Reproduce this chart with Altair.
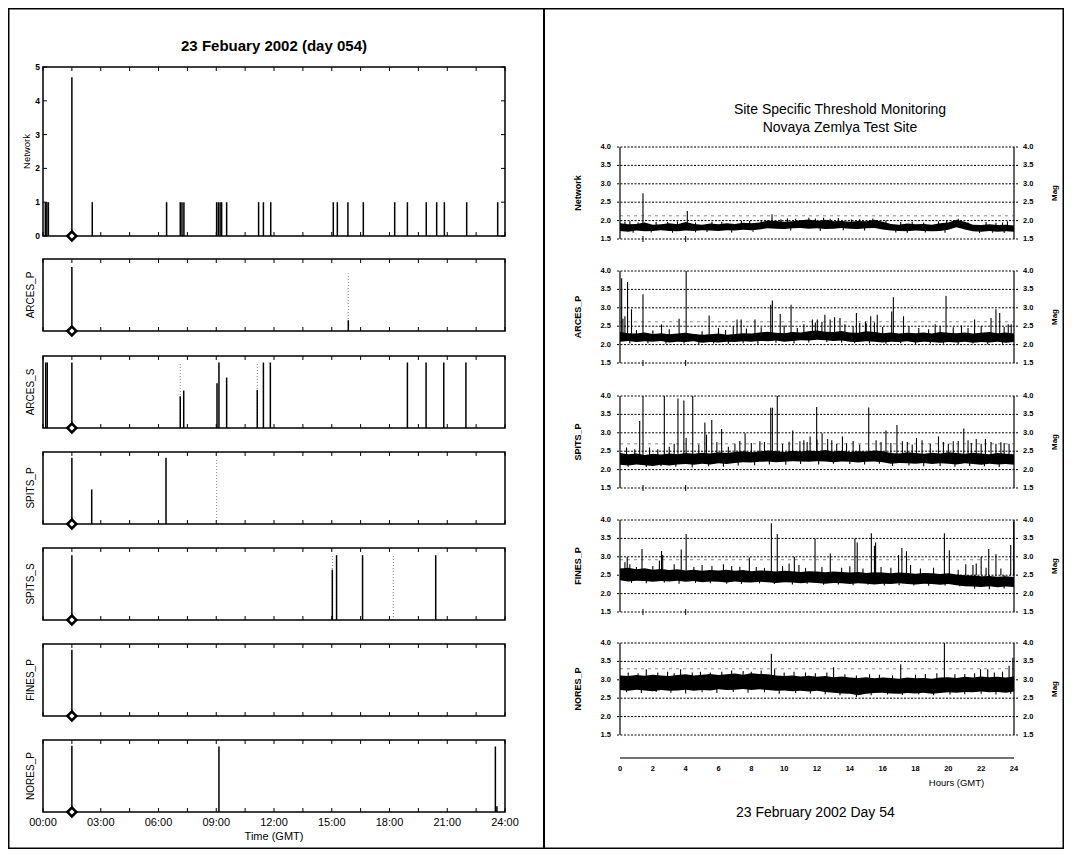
import altair as alt
import pandas as pd

W, H = 1056, 841
FONT = "Liberation Sans, Arial, Helvetica, sans-serif"

# ------------------------------------------------------------------ data
# left column: event-detection traces (hours GMT, normalised amplitude)
LEFT_PANELS = ["Network", "ARCES_P", "ARCES_S", "SPITS_P", "SPITS_S", "FINES_P", "NORES_P"]
EVENT_HOUR = 1.5
LEFT_TICK_HOURS = [0, 3, 6, 9, 12, 15, 18, 21, 24]
LEFT_TICK_LABELS = ["00:00", "03:00", "06:00", "09:00", "12:00", "15:00", "18:00", "21:00", "24:00"]
NETWORK_Y_TICKS = [0, 1, 2, 3, 4, 5]

NET_H = [0.12, 0.20, 0.28, 1.5, 2.56, 6.42, 7.13, 7.22, 7.32, 9.02, 9.11, 9.20, 9.28, 9.54,
         11.20, 11.45, 11.83, 15.08, 15.29, 15.84, 16.64, 18.27, 18.93, 19.91, 20.45, 20.85,
         22.01, 23.62]
NET_V = [1, 1, 1, 4.7, 1, 1, 1, 1, 1, 1, 1, 1, 1, 1,
         1, 1, 1, 1, 1, 1, 1, 1, 1, 1, 1, 1,
         1, 1]

ARCES_P_H = [1.5, 15.86]
ARCES_P_V = [0.89, 0.15]
ARCES_P_FAINT_H = [15.86]
ARCES_P_FAINT_V = [0.80]

ARCES_S_H = [0.14, 0.22, 1.5, 7.13, 7.31, 9.04, 9.14, 9.54, 11.13, 11.45, 11.81, 18.93, 19.90, 20.82, 21.97]
ARCES_S_V = [0.91, 0.91, 0.91, 0.44, 0.52, 0.62, 0.91, 0.70, 0.53, 0.91, 0.91, 0.91, 0.91, 0.91, 0.91]
ARCES_S_FAINT_H = [7.13, 11.13]
ARCES_S_FAINT_V = [0.90, 0.90]

SPITS_P_H = [1.5, 2.53, 6.39]
SPITS_P_V = [0.92, 0.48, 0.92]
SPITS_P_FAINT_H = [9.02]
SPITS_P_FAINT_V = [0.90]

SPITS_S_H = [1.5, 15.03, 15.25, 16.60, 20.40]
SPITS_S_V = [0.90, 0.70, 0.90, 0.90, 0.90]
SPITS_S_FAINT_H = [15.03, 18.20]
SPITS_S_FAINT_V = [0.90, 0.90]

FINES_P_H = [1.5]
FINES_P_V = [0.92]

NORES_P_H = [1.5, 9.14, 23.50, 23.58]
NORES_P_V = [0.92, 0.91, 0.91, 0.08]

# right column: threshold monitoring (magnitude), band sampled every half hour
HALF_HOURS = [i * 0.5 for i in range(49)]
RIGHT_PANELS = ["Network", "ARCES_P", "SPITS_P", "FINES_P", "NORES_P"]
MAG_TICKS = [1.5, 2.0, 2.5, 3.0, 3.5, 4.0]
MAG_LABELS = ["1.5", "2.0", "2.5", "3.0", "3.5", "4.0"]
HOUR_TICKS = [0, 2, 4, 6, 8, 10, 12, 14, 16, 18, 20, 22, 24]
MARKER_HOURS = [1.4, 4.0]

NET_HI = [1.93, 1.90, 1.91, 1.95, 1.89, 1.90, 1.93, 1.90, 1.96, 1.91, 1.89, 1.92, 1.90, 1.93, 1.91, 1.94,
          1.93, 1.95, 2.00, 1.99, 1.97, 1.98, 2.01, 2.03, 1.99, 2.02, 1.98, 1.99, 1.97, 1.99, 1.98, 2.02,
          1.97, 1.91, 1.89, 1.92, 1.90, 1.91, 1.89, 1.93, 1.95, 2.02, 1.97, 1.89, 1.88, 1.90, 1.88, 1.89, 1.87]
NET_LO = [1.72, 1.70, 1.73, 1.71, 1.72, 1.74, 1.72, 1.71, 1.73, 1.72, 1.74, 1.73, 1.72, 1.74, 1.73, 1.75,
          1.74, 1.76, 1.79, 1.78, 1.77, 1.79, 1.80, 1.78, 1.79, 1.77, 1.78, 1.80, 1.78, 1.77, 1.79, 1.80,
          1.76, 1.73, 1.72, 1.71, 1.73, 1.72, 1.71, 1.72, 1.75, 1.82, 1.76, 1.71, 1.70, 1.72, 1.70, 1.71, 1.70]
NET_SPK_H = [1.4, 4.1, 9.26, 0.6, 2.9, 5.6, 7.4, 10.2, 11.5, 12.8, 13.3, 15.4, 17.8, 19.4, 20.6, 22.3, 23.6,
             0.3, 1.1, 2.2, 3.5, 4.6, 6.2, 7.9, 8.6, 9.8, 10.7, 11.9, 12.4, 14.1, 14.6, 16.2, 17.1,
             18.5, 19.9, 21.2, 22.9, 23.3]
NET_SPK_V = [2.74, 2.26, 2.17, 1.98, 1.96, 1.97, 1.99, 2.06, 2.08, 2.05, 2.07, 2.06, 1.97, 1.98, 2.05, 1.96, 1.98,
             1.97, 1.95, 1.96, 1.98, 1.95, 1.97, 1.99, 2.01, 2.04, 2.05, 2.06, 2.08, 2.03, 2.04, 2.00, 1.96,
             1.95, 1.99, 1.95, 1.94, 1.95]
NET_DIP_H = [0.8, 1.9, 3.2, 4.6, 5.3, 6.8, 8.1, 10.4, 12.2, 13.6, 14.9, 16.8, 17.5, 18.6, 19.8, 21.9, 22.7, 23.4]
NET_DIP_V = [1.67, 1.68, 1.67, 1.68, 1.69, 1.68, 1.70, 1.73, 1.72, 1.74, 1.73, 1.68, 1.67, 1.68, 1.67, 1.66, 1.67, 1.66]

ARC_HI = [2.34, 2.31, 2.30, 2.33, 2.29, 2.31, 2.28, 2.30, 2.32, 2.29, 2.27, 2.28, 2.30, 2.27, 2.29, 2.31,
          2.30, 2.33, 2.35, 2.32, 2.31, 2.34, 2.33, 2.36, 2.38, 2.35, 2.34, 2.37, 2.33, 2.32, 2.36, 2.34,
          2.31, 2.33, 2.30, 2.32, 2.31, 2.33, 2.30, 2.34, 2.32, 2.31, 2.33, 2.30, 2.32, 2.34, 2.31, 2.33, 2.30]
ARC_LO = [2.08, 2.10, 2.07, 2.09, 2.08, 2.10, 2.06, 2.08, 2.07, 2.09, 2.05, 2.07, 2.06, 2.08, 2.07, 2.09,
          2.08, 2.10, 2.09, 2.11, 2.08, 2.10, 2.12, 2.11, 2.13, 2.12, 2.10, 2.11, 2.08, 2.07, 2.09, 2.08,
          2.06, 2.08, 2.07, 2.09, 2.06, 2.08, 2.07, 2.05, 2.07, 2.06, 2.08, 2.05, 2.07, 2.06, 2.08, 2.05, 2.07]
ARC_SPK_H = [0.1, 0.18, 0.3, 0.46, 0.7, 1.4, 2.53, 3.6, 4.03, 4.63, 5.43, 6.43, 7.13, 7.38, 8.22, 9.18,
             9.28, 9.76, 10.42, 11.72, 12.02, 12.48, 12.8, 13.07, 13.4, 14.4, 14.6, 14.95, 15.27, 15.67,
             16.55, 16.65, 17.27, 19.2, 19.86, 21.6, 22.6, 22.9, 23.13, 23.65, 23.83,
             1.0, 2.0, 3.0, 5.0, 6.0, 6.9, 7.7, 8.6, 10.0, 10.8, 11.2, 11.9, 12.3, 13.7, 14.2, 15.0,
             15.5, 16.0, 17.6, 18.2, 18.8, 19.5, 20.3, 20.8, 21.2, 22.0, 23.4]
ARC_SPK_V = [3.8, 2.7, 2.77, 3.7, 2.96, 3.37, 2.55, 2.7, 4.0, 2.28, 2.79, 2.4, 2.68, 2.68, 2.68, 3.08,
             3.2, 2.83, 3.08, 2.68, 2.68, 2.81, 2.68, 2.74, 2.72, 2.86, 2.59, 2.63, 2.77, 2.81,
             2.9, 3.29, 2.77, 2.55, 3.32, 2.68, 2.72, 2.96, 2.86, 2.55, 2.55,
             2.40, 2.38, 2.42, 2.36, 2.45, 2.50, 2.44, 2.47, 2.52, 2.45, 2.55, 2.60, 2.62, 2.55, 2.50, 2.58,
             2.60, 2.48, 2.50, 2.45, 2.42, 2.50, 2.47, 2.52, 2.45, 2.50, 2.48]
ARC_DIP_H = [0.6, 1.7, 2.8, 3.9, 4.8, 5.7, 6.6, 7.5, 8.4, 9.5, 10.6, 11.5, 12.6, 13.5, 14.3, 15.2, 16.2,
             17.1, 18.0, 18.9, 19.7, 20.6, 21.5, 22.4, 23.3]
ARC_DIP_V = [2.03, 2.04, 2.02, 2.03, 2.01, 2.03, 2.02, 2.04, 2.02, 2.05, 2.03, 2.06, 2.07, 2.05, 2.04, 2.03, 2.02,
             2.04, 2.01, 2.03, 2.02, 2.00, 2.03, 2.01, 2.02]

SPI_HI = [2.45, 2.42, 2.44, 2.40, 2.43, 2.41, 2.44, 2.42, 2.45, 2.43, 2.46, 2.44, 2.47, 2.45, 2.48, 2.50,
          2.47, 2.49, 2.52, 2.50, 2.48, 2.51, 2.49, 2.52, 2.50, 2.53, 2.49, 2.51, 2.48, 2.50, 2.49, 2.52,
          2.50, 2.45, 2.44, 2.47, 2.45, 2.43, 2.46, 2.44, 2.47, 2.45, 2.43, 2.46, 2.44, 2.42, 2.45, 2.43, 2.42]
SPI_LO = [2.13, 2.11, 2.14, 2.12, 2.10, 2.13, 2.11, 2.14, 2.15, 2.13, 2.16, 2.14, 2.17, 2.15, 2.18, 2.20,
          2.19, 2.21, 2.22, 2.20, 2.21, 2.23, 2.22, 2.21, 2.23, 2.22, 2.20, 2.22, 2.21, 2.19, 2.21, 2.22,
          2.20, 2.16, 2.18, 2.17, 2.16, 2.18, 2.15, 2.17, 2.16, 2.14, 2.17, 2.15, 2.13, 2.16, 2.14, 2.15, 2.13]
SPI_SPK_H = [1.2, 1.4, 2.7, 3.53, 3.89, 4.03, 4.43, 5.17, 5.27, 5.59, 6.19, 7.62, 8.52, 9.18, 9.28, 9.58,
             10.52, 10.96, 11.58, 11.98, 12.31, 12.65, 13.55, 15.15, 16.2, 16.87, 17.2, 18.06, 19.4,
             20.3, 20.94, 21.7, 22.26, 23.4,
             0.4, 0.9, 1.8, 2.3, 3.0, 3.3, 4.8, 5.9, 6.6, 7.0, 7.3, 8.0, 8.8, 9.9, 10.3, 11.2, 11.4,
             12.0, 12.9, 13.2, 13.8, 14.2, 14.6, 15.6, 15.9, 16.5, 17.5, 17.8, 18.4, 18.9, 19.7, 20.0,
             20.6, 21.2, 21.4, 22.0, 22.6, 22.9, 23.2, 23.7]
SPI_SPK_V = [3.32, 4.0, 4.0, 3.93, 3.88, 2.86, 4.0, 3.28, 2.95, 3.35, 3.1, 2.99, 2.77, 3.68, 3.68, 4.0,
             3.06, 2.77, 2.9, 3.7, 2.99, 2.83, 2.9, 3.69, 3.06, 3.21, 2.77, 2.86, 2.9,
             2.77, 3.12, 2.83, 2.83, 2.72,
             2.60, 2.55, 2.60, 2.55, 2.62, 2.70, 2.68, 2.75, 2.62, 2.70, 2.78, 2.72, 2.75, 2.70, 2.76, 2.80, 2.75,
             2.82, 2.80, 2.70, 2.72, 2.78, 2.68, 2.80, 2.75, 2.72, 2.75, 2.68, 2.80, 2.70, 2.75, 2.70,
             2.78, 2.80, 2.72, 2.70, 2.75, 2.70, 2.74, 2.70]
SPI_DIP_H = [0.5, 1.6, 2.5, 3.4, 4.4, 5.4, 6.3, 7.2, 8.2, 9.1, 10.1, 11.0, 12.1, 13.0, 14.0, 14.9, 15.8,
             16.6, 17.6, 18.5, 19.5, 20.4, 21.3, 22.2, 23.1]
SPI_DIP_V = [2.08, 2.07, 2.09, 2.08, 2.06, 2.09, 2.08, 2.11, 2.12, 2.14, 2.13, 2.15, 2.14, 2.16, 2.15, 2.14,
             2.16, 2.10, 2.11, 2.09, 2.10, 2.08, 2.10, 2.09, 2.07]

FIN_HI = [2.68, 2.70, 2.66, 2.69, 2.65, 2.67, 2.64, 2.66, 2.63, 2.65, 2.62, 2.64, 2.63, 2.65, 2.62, 2.64,
          2.61, 2.63, 2.62, 2.60, 2.62, 2.61, 2.59, 2.61, 2.60, 2.58, 2.60, 2.59, 2.57, 2.59, 2.56, 2.58,
          2.57, 2.55, 2.57, 2.56, 2.54, 2.56, 2.55, 2.53, 2.55, 2.52, 2.50, 2.49, 2.47, 2.48, 2.46, 2.47, 2.45]
FIN_LO = [2.36, 2.33, 2.35, 2.34, 2.32, 2.34, 2.33, 2.35, 2.32, 2.34, 2.31, 2.33, 2.32, 2.30, 2.33, 2.31,
          2.30, 2.32, 2.31, 2.29, 2.31, 2.30, 2.28, 2.30, 2.29, 2.27, 2.29, 2.28, 2.26, 2.28, 2.27, 2.25,
          2.27, 2.26, 2.28, 2.26, 2.25, 2.27, 2.26, 2.24, 2.26, 2.23, 2.20, 2.19, 2.18, 2.20, 2.17, 2.19, 2.18]
FIN_SPK_H = [0.44, 1.34, 2.53, 3.73, 4.03, 7.88, 9.22, 9.58, 10.62, 11.88, 12.81, 14.31, 14.45, 15.31,
             15.57, 16.97, 17.17, 17.45, 19.76, 20.06, 21.06, 22.0, 22.46, 22.9, 23.8, 23.98,
             0.3, 0.6, 1.0, 2.0, 2.4, 2.6, 3.3, 4.5, 5.0, 5.6, 6.3, 6.8, 7.3, 8.3, 8.8, 9.9, 10.3,
             10.9, 11.3, 12.3, 13.5, 14.0, 14.8, 15.5, 15.9, 16.5, 17.7, 18.3, 19.1, 20.6, 21.5, 21.7,
             22.3, 23.2]
FIN_SPK_V = [3.0, 3.21, 3.16, 3.2, 3.62, 2.98, 3.91, 3.62, 3.0, 3.5, 3.09, 3.5, 3.39, 3.64,
             3.39, 3.05, 3.24, 3.15, 3.64, 3.18, 2.8, 3.0, 3.21, 3.07, 3.32, 3.96,
             2.85, 2.80, 2.72, 2.75, 2.90, 3.05, 2.80, 2.72, 2.78, 2.75, 2.80, 2.75, 2.73, 2.72, 2.70, 2.75, 2.82,
             2.78, 2.70, 2.72, 2.70, 2.74, 2.68, 3.30, 2.72, 2.70, 2.78, 2.68, 2.70, 2.65, 2.78, 2.82,
             2.70, 2.68]
FIN_DIP_H = [0.7, 1.6, 2.7, 3.6, 4.6, 5.5, 6.5, 7.4, 8.5, 9.4, 10.5, 11.4, 12.4, 13.3, 14.2, 15.1, 16.1,
             17.0, 17.9, 18.8, 19.8, 20.7, 21.6, 22.5, 23.4]
FIN_DIP_V = [2.29, 2.28, 2.30, 2.27, 2.29, 2.28, 2.27, 2.26, 2.28, 2.26, 2.25, 2.27, 2.24, 2.25, 2.23, 2.24,
             2.22, 2.23, 2.22, 2.21, 2.22, 2.20, 2.13, 2.12, 2.14]

NOR_HI = [3.12, 3.10, 3.13, 3.11, 3.14, 3.12, 3.10, 3.13, 3.15, 3.12, 3.14, 3.16, 3.13, 3.15, 3.17, 3.14,
          3.18, 3.16, 3.15, 3.12, 3.10, 3.12, 3.09, 3.11, 3.08, 3.10, 3.07, 3.09, 3.06, 3.05, 3.07, 3.04,
          3.06, 3.05, 3.03, 3.06, 3.04, 3.05, 3.03, 3.06, 3.07, 3.05, 3.08, 3.06, 3.09, 3.07, 3.08, 3.06, 3.09]
NOR_LO = [2.72, 2.70, 2.73, 2.71, 2.69, 2.72, 2.70, 2.71, 2.73, 2.70, 2.72, 2.71, 2.74, 2.72, 2.73, 2.75,
          2.72, 2.74, 2.72, 2.70, 2.71, 2.69, 2.70, 2.68, 2.70, 2.67, 2.65, 2.63, 2.62, 2.58, 2.62, 2.64,
          2.65, 2.63, 2.62, 2.64, 2.63, 2.65, 2.62, 2.64, 2.66, 2.65, 2.67, 2.66, 2.68, 2.66, 2.67, 2.65, 2.68]
NOR_SPK_H = [1.6, 3.69, 9.22, 9.42, 13.01, 17.1, 19.76, 21.96, 22.4, 23.7, 23.93,
             0.5, 1.1, 2.3, 2.9, 3.3, 4.4, 4.9, 5.5, 6.2, 6.8, 7.5, 8.0, 8.6, 10.0, 10.6, 11.3, 11.9,
             12.6, 13.7, 14.4, 15.2, 15.8, 16.6, 18.0, 18.6, 19.3, 20.4, 21.0, 21.6, 22.8, 23.3]
NOR_SPK_V = [3.29, 3.29, 3.71, 3.29, 3.34, 3.42, 4.0, 3.29, 3.29, 3.38, 3.6,
             3.20, 3.18, 3.20, 3.22, 3.18, 3.20, 3.22, 3.20, 3.22, 3.25, 3.24, 3.22, 3.25, 3.20, 3.22, 3.20, 3.18,
             3.20, 3.15, 3.12, 3.15, 3.14, 3.12, 3.14, 3.16, 3.18, 3.15, 3.16, 3.18, 3.20, 3.22]
NOR_DIP_H = [0.4, 1.3, 2.2, 3.1, 4.0, 5.0, 5.9, 6.9, 7.8, 8.8, 9.7, 10.7, 11.6, 12.5, 13.4, 14.4, 15.3,
             16.3, 17.2, 18.2, 19.1, 20.1, 21.0, 22.0, 22.9, 23.8]
NOR_DIP_V = [2.66, 2.64, 2.67, 2.65, 2.63, 2.66, 2.64, 2.67, 2.65, 2.66, 2.62, 2.64, 2.63, 2.61, 2.58, 2.53,
             2.58, 2.60, 2.59, 2.61, 2.58, 2.60, 2.61, 2.62, 2.60, 2.62]

SPIKE_BASE = [1.85, 2.20, 2.30, 2.50, 2.90]
THRESHOLD = [2.13, 2.62, 2.70, 2.92, 3.30]

# ------------------------------------------------------------------ layout (chart pixel coords)
LX = [35, 497]
L_TOPS = [59, 251, 348, 444, 540, 636, 732]
L_BOTS = [228, 323, 420, 516, 612, 708, 804]
RX = [612, 1006]
R_TOPS = [139, 263, 388, 512, 635]
R_BOTS = [231, 355, 480, 604, 727]


def sx(r):
    return alt.Scale(domain=[0, 24], range=r, nice=False, zero=False)


def sy(dom, r):
    return alt.Scale(domain=dom, range=r, nice=False, zero=False)


def X(field, sc):
    return alt.X(field, type="quantitative", scale=sc, axis=None)


def Y(field, sc):
    return alt.Y(field, type="quantitative", scale=sc, axis=None)


layers = []

# ---------------- left column
left_spikes = [(NET_H, NET_V), (ARCES_P_H, ARCES_P_V), (ARCES_S_H, ARCES_S_V), (SPITS_P_H, SPITS_P_V),
               (SPITS_S_H, SPITS_S_V), (FINES_P_H, FINES_P_V), (NORES_P_H, NORES_P_V)]
left_faint = [None, (ARCES_P_FAINT_H, ARCES_P_FAINT_V), (ARCES_S_FAINT_H, ARCES_S_FAINT_V),
              (SPITS_P_FAINT_H, SPITS_P_FAINT_V), (SPITS_S_FAINT_H, SPITS_S_FAINT_V), None, None]
tick_hours = [i * 1.5 for i in range(17)]

for i, name in enumerate(LEFT_PANELS):
    ydom = [0, 5] if i == 0 else [0, 1]
    xsc = sx(LX)
    ysc = sy(ydom, [L_BOTS[i], L_TOPS[i]])

    if left_faint[i] is not None:
        fh, fv = left_faint[i]
        fdf = pd.DataFrame({"h": fh, "v": fv, "b": [0] * len(fh)})
        layers.append(alt.Chart(fdf).mark_rule(color="#888888", strokeWidth=1, strokeDash=[1, 2]).encode(
            x=X("h", xsc), y=Y("b", ysc), y2="v"))

    sh, sv = left_spikes[i]
    sdf = pd.DataFrame({"h": sh, "v": sv, "b": [0] * len(sh)})
    layers.append(alt.Chart(sdf).mark_rule(color="black", strokeWidth=1.5).encode(
        x=X("h", xsc), y=Y("b", ysc), y2="v"))

    fr = pd.DataFrame({"x0": [0], "x1": [24], "y0": [ydom[0]], "y1": [ydom[1]]})
    layers.append(alt.Chart(fr).mark_rect(fillOpacity=0, stroke="black", strokeWidth=1.5).encode(
        x=X("x0", xsc), x2="x1", y=Y("y0", ysc), y2="y1"))

    tdf = pd.DataFrame({"h": tick_hours, "yt": [ydom[1]] * 17, "yb": [ydom[0]] * 17})
    layers.append(alt.Chart(tdf).mark_rule(color="black", strokeWidth=1, y2Offset=4).encode(
        x=X("h", xsc), y=Y("yt", ysc), y2="yt"))
    layers.append(alt.Chart(tdf).mark_rule(color="black", strokeWidth=1, y2Offset=-4).encode(
        x=X("h", xsc), y=Y("yb", ysc), y2="yb"))

    ddf = pd.DataFrame({"h": [EVENT_HOUR], "v": [0]})
    layers.append(alt.Chart(ddf).mark_point(shape="diamond", filled=True, fill="white", stroke="black",
                                            strokeWidth=2.5, size=80, opacity=1).encode(
        x=X("h", xsc), y=Y("v", ysc)))

    ldf = pd.DataFrame({"m": [(ydom[0] + ydom[1]) / 2], "t": [name]})
    layers.append(alt.Chart(ldf).mark_text(angle=270, fontSize=9.5 if i == 0 else 10, font=FONT,
                                           color="black").encode(
        x=alt.value(19 if i == 0 else 23), y=Y("m", ysc), text="t:N"))

    if i == 0:
        ydf = pd.DataFrame({"v": NETWORK_Y_TICKS, "t": [str(v) for v in NETWORK_Y_TICKS],
                            "x0": [0] * 6, "x1": [24] * 6})
        layers.append(alt.Chart(ydf).mark_text(align="right", baseline="middle", dx=-3, fontSize=8.5,
                                               fontWeight="bold", font=FONT).encode(
            x=X("x0", xsc), y=Y("v", ysc), text="t:N"))
        layers.append(alt.Chart(ydf).mark_rule(color="black", strokeWidth=1, x2Offset=4).encode(
            x=X("x0", xsc), x2="x0", y=Y("v", ysc)))
        layers.append(alt.Chart(ydf).mark_rule(color="black", strokeWidth=1, x2Offset=-4).encode(
            x=X("x1", xsc), x2="x1", y=Y("v", ysc)))
        tt = pd.DataFrame({"h": [12], "v": [5], "t": ["23 Febuary 2002 (day 054)"]})
        layers.append(alt.Chart(tt).mark_text(fontSize=15, fontWeight="bold", font=FONT, dy=-21).encode(
            x=X("h", xsc), y=Y("v", ysc), text="t:N"))

    if i == len(LEFT_PANELS) - 1:
        xdf = pd.DataFrame({"h": LEFT_TICK_HOURS, "t": LEFT_TICK_LABELS})
        layers.append(alt.Chart(xdf).mark_text(fontSize=11, font=FONT, baseline="middle").encode(
            x=X("h", xsc), y=alt.value(815), text="t:N"))
        tdf2 = pd.DataFrame({"h": [12], "t": ["Time (GMT)"]})
        layers.append(alt.Chart(tdf2).mark_text(fontSize=11, font=FONT, baseline="middle").encode(
            x=X("h", xsc), y=alt.value(829), text="t:N"))

# ---------------- right column
bands = [(NET_LO, NET_HI), (ARC_LO, ARC_HI), (SPI_LO, SPI_HI), (FIN_LO, FIN_HI), (NOR_LO, NOR_HI)]
spikes = [(NET_SPK_H, NET_SPK_V), (ARC_SPK_H, ARC_SPK_V), (SPI_SPK_H, SPI_SPK_V),
          (FIN_SPK_H, FIN_SPK_V), (NOR_SPK_H, NOR_SPK_V)]
dips = [(NET_DIP_H, NET_DIP_V), (ARC_DIP_H, ARC_DIP_V), (SPI_DIP_H, SPI_DIP_V),
        (FIN_DIP_H, FIN_DIP_V), (NOR_DIP_H, NOR_DIP_V)]

for i, name in enumerate(RIGHT_PANELS):
    xsc = sx(RX)
    ysc = sy([1.5, 4.0], [R_BOTS[i], R_TOPS[i]])

    gdf = pd.DataFrame({"v": MAG_TICKS, "t": MAG_LABELS, "x0": [0] * 6, "x1": [24] * 6})
    layers.append(alt.Chart(gdf).mark_rule(color="black", strokeWidth=1, strokeDash=[2, 1.5],
                                           xOffset=-3, x2Offset=4).encode(
        x=X("x0", xsc), x2="x1", y=Y("v", ysc)))
    th = pd.DataFrame({"v": [THRESHOLD[i]], "x0": [0], "x1": [24]})
    layers.append(alt.Chart(th).mark_rule(color="#8a8a8a", strokeWidth=1, strokeDash=[3, 4]).encode(
        x=X("x0", xsc), x2="x1", y=Y("v", ysc)))

    vdf = pd.DataFrame({"h": [0, 24], "a": [1.5, 1.5], "b": [4.0, 4.0]})
    layers.append(alt.Chart(vdf).mark_rule(color="black", strokeWidth=1.2).encode(
        x=X("h", xsc), y=Y("a", ysc), y2="b"))

    lo, hi = bands[i]
    bdf = pd.DataFrame({"h": HALF_HOURS, "lo": lo, "hi": hi})
    layers.append(alt.Chart(bdf).mark_area(color="black", opacity=1).encode(
        x=X("h", xsc), y=Y("lo", ysc), y2="hi"))

    ph, pv = spikes[i]
    pdf = pd.DataFrame({"h": ph, "v": pv, "b": [SPIKE_BASE[i]] * len(ph)})
    layers.append(alt.Chart(pdf).mark_rule(color="black", strokeWidth=1.1).encode(
        x=X("h", xsc), y=Y("b", ysc), y2="v"))

    dh, dv = dips[i]
    ddf2 = pd.DataFrame({"h": dh, "v": dv, "b": [SPIKE_BASE[i]] * len(dh)})
    layers.append(alt.Chart(ddf2).mark_rule(color="black", strokeWidth=1.1).encode(
        x=X("h", xsc), y=Y("b", ysc), y2="v"))

    if i < 4:
        mdf = pd.DataFrame({"h": MARKER_HOURS, "v": [1.5, 1.5]})
        layers.append(alt.Chart(mdf).mark_rule(color="black", strokeWidth=1, yOffset=-3, y2Offset=3).encode(
            x=X("h", xsc), y=Y("v", ysc), y2="v"))

    layers.append(alt.Chart(gdf).mark_text(align="right", baseline="middle", dx=-9, fontSize=7.5,
                                           fontWeight="bold", font=FONT).encode(
        x=X("x0", xsc), y=Y("v", ysc), text="t:N"))
    layers.append(alt.Chart(gdf).mark_text(align="left", baseline="middle", dx=9, fontSize=7.5,
                                           fontWeight="bold", font=FONT).encode(
        x=X("x1", xsc), y=Y("v", ysc), text="t:N"))

    ldf = pd.DataFrame({"m": [2.75], "t": [name], "u": ["Mag"]})
    layers.append(alt.Chart(ldf).mark_text(angle=270, fontSize=9, fontWeight="bold", font=FONT).encode(
        x=alt.value(570), y=Y("m", ysc), text="t:N"))
    layers.append(alt.Chart(ldf).mark_text(angle=270, fontSize=8, fontWeight="bold", font=FONT).encode(
        x=alt.value(1047), y=Y("m", ysc), text="u:N"))

    if i == 0:
        t1 = pd.DataFrame({"h": [13.4, 13.4], "v": [4.0, 4.0],
                           "t": ["Site Specific Threshold Monitoring", "Novaya Zemlya Test Site"],
                           "d": [-37, -19]})
        for k in range(2):
            layers.append(alt.Chart(t1.iloc[[k]]).mark_text(fontSize=14, font=FONT,
                                                            dy=int(t1["d"][k])).encode(
                x=X("h", xsc), y=Y("v", ysc), text="t:N"))

# hours axis
xsc = sx(RX)
hx = pd.DataFrame({"h": HOUR_TICKS, "t": [str(h) for h in HOUR_TICKS]})
ax = pd.DataFrame({"a": [0], "b": [24]})
layers.append(alt.Chart(ax).mark_rule(color="#444444", strokeWidth=1.5).encode(
    x=X("a", xsc), x2="b", y=alt.value(750)))
layers.append(alt.Chart(hx).mark_text(fontSize=7.5, fontWeight="bold", font=FONT, baseline="middle").encode(
    x=X("h", xsc), y=alt.value(761), text="t:N"))
ht = pd.DataFrame({"h": [20.5], "t": ["Hours (GMT)"]})
layers.append(alt.Chart(ht).mark_text(fontSize=9.5, font=FONT, baseline="middle").encode(
    x=X("h", xsc), y=alt.value(775), text="t:N"))
bt = pd.DataFrame({"h": [11.9], "t": ["23 February 2002 Day 54"]})
layers.append(alt.Chart(bt).mark_text(fontSize=14, font=FONT, baseline="middle").encode(
    x=X("h", xsc), y=alt.value(805), text="t:N"))

# divider between the two halves
layers.append(alt.Chart(pd.DataFrame({"a": [0]})).mark_rule(color="black", strokeWidth=2).encode(
    x=alt.value(536), y=alt.value(0), y2=alt.value(H)))

chart = alt.layer(*layers).resolve_scale(x="independent", y="independent").properties(
    width=W, height=H, autosize=alt.AutoSizeParams(type="none"), padding=0,
    background="white").configure_view(stroke="black", strokeWidth=3)

chart.save("out.html", embed_options={"renderer": "svg", "actions": False})
